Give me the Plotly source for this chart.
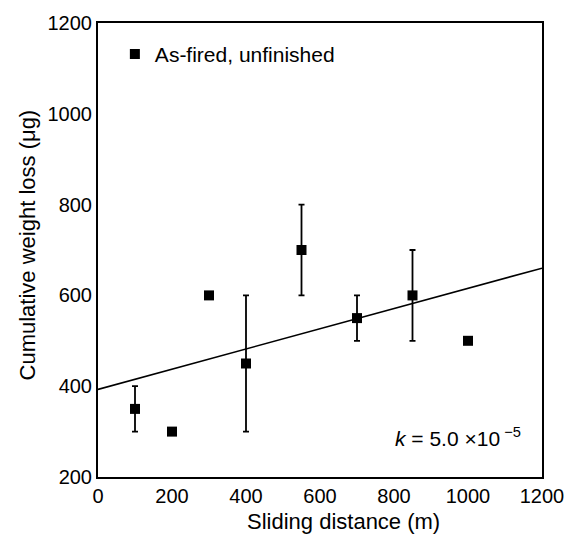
import plotly.graph_objects as go

# data
distance = [100, 200, 300, 400, 550, 700, 850, 1000]
weight_loss = [350, 300, 600, 450, 700, 550, 600, 500]
error = [50, None, None, 150, 100, 50, 100, None]
fit_x = [0, 1200]
fit_y = [393, 660]
x_ticks = [0, 200, 400, 600, 800, 1000, 1200]
y_ticks = [200, 400, 600, 800, 1000, 1200]

FONT = "Liberation Sans, Arial, Helvetica, sans-serif"

fig = go.Figure()
fig.add_trace(go.Scatter(
    x=fit_x, y=fit_y, mode="lines",
    line=dict(color="black", width=1.6), showlegend=False, hoverinfo="skip"))
fig.add_trace(go.Scatter(
    x=distance, y=weight_loss, mode="markers",
    name="As-fired, unfinished",
    marker=dict(symbol="square", size=10, color="black"),
    error_y=dict(type="data", array=error, visible=True,
                 color="black", thickness=1.8, width=3)))

fig.update_layout(
    width=576, height=534,
    margin=dict(l=98, r=27, t=23, b=57),
    paper_bgcolor="white", plot_bgcolor="white",
    font=dict(family=FONT, size=20, color="black"),
    showlegend=True,
    legend=dict(x=0.038, y=0.976, xanchor="left", yanchor="top",
                bgcolor="rgba(0,0,0,0)", font=dict(size=21),
                itemwidth=30, tracegroupgap=0),
    xaxis=dict(range=[0, 1200], tickvals=x_ticks, showgrid=False,
               zeroline=False, showline=True, linecolor="black",
               linewidth=2, mirror=True, ticks="", ticklen=0,
               tickfont=dict(size=20), ticklabeloverflow="allow"),
    yaxis=dict(range=[200, 1200], tickvals=y_ticks, showgrid=False,
               zeroline=False, showline=True, linecolor="black",
               linewidth=2, mirror=True, ticks="", ticklen=0,
               tickfont=dict(size=20), ticklabeloverflow="allow"),
    annotations=[
        dict(text="Sliding distance (m)", xref="paper", yref="paper",
             x=0.552, y=0, yshift=-44, xanchor="center", yanchor="middle",
             showarrow=False, font=dict(size=22)),
        dict(text="Cumulative weight loss (\u03bcg)", xref="paper", yref="paper",
             x=0, xshift=-71, y=0.51, xanchor="center", yanchor="middle",
             textangle=-90, showarrow=False, font=dict(size=22)),
        dict(text="<i>k</i> = 5.0 \u00d710<sup> \u22125</sup>", xref="paper", yref="paper",
             x=0.958, y=0.088, xanchor="right", yanchor="middle",
             showarrow=False, font=dict(size=21)),
    ],
)

fig.write_html(
    "out.html",
    config={"displayModeBar": False},
    post_script="document.body.style.margin='0';document.body.style.overflow='hidden';",
)
